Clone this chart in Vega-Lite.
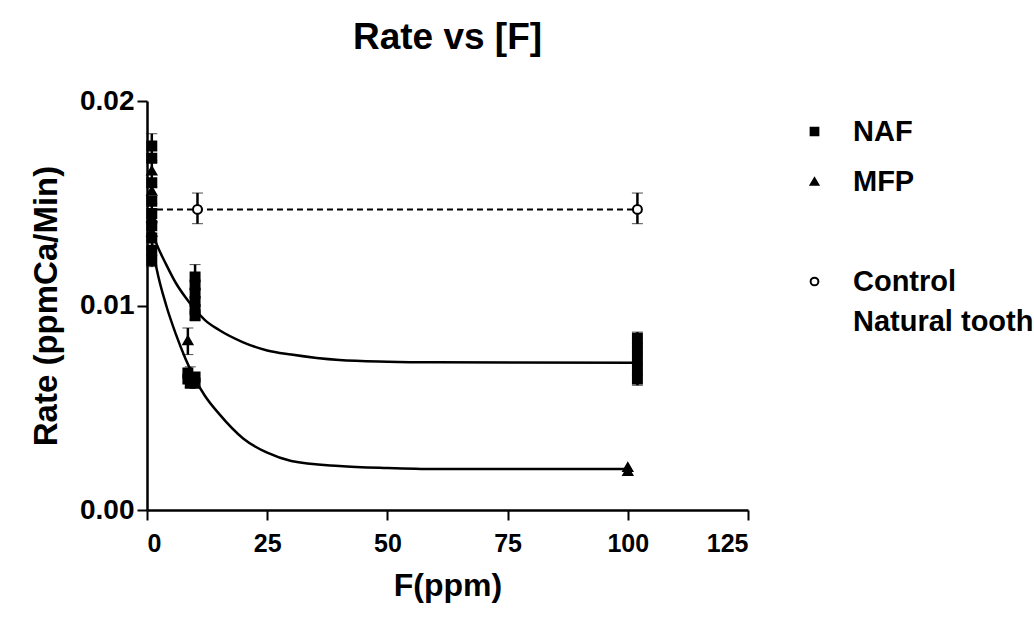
{
  "$schema": "https://vega.github.io/schema/vega-lite/v6.json",
  "width": 601,
  "height": 409,
  "autosize": "none",
  "padding": {"left": 147, "top": 101, "right": 286, "bottom": 120},
  "background": "white",
  "config": {
    "font": "Liberation Sans",
    "view": {"stroke": null},
    "style": {"guide-label": {"lineHeight": 40}},
    "axis": {"grid": false, "domainColor": "black", "domainWidth": 2.5, "tickColor": "black", "tickWidth": 2, "tickSize": 10, "labelColor": "black", "titleColor": "black", "labelFont": "Liberation Sans", "titleFont": "Liberation Sans", "labelFontWeight": "bold"}
  },
  "title": {"text": "Rate vs [F]", "fontSize": 37, "fontWeight": "bold", "font": "Liberation Sans", "color": "black", "offset": 30, "anchor": "middle"},
  "datasets": {
    "points": [
      {"series": "NAF", "x": 1, "y": 0.0178},
      {"series": "NAF", "x": 1, "y": 0.0172},
      {"series": "NAF", "x": 1, "y": 0.0160},
      {"series": "NAF", "x": 1, "y": 0.0151},
      {"series": "NAF", "x": 1, "y": 0.0145},
      {"series": "NAF", "x": 1, "y": 0.0139},
      {"series": "NAF", "x": 1, "y": 0.0133},
      {"series": "NAF", "x": 1, "y": 0.0127},
      {"series": "NAF", "x": 1, "y": 0.0122},
      {"series": "MFP", "x": 1, "y": 0.0166},
      {"series": "MFP", "x": 1, "y": 0.0156},
      {"series": "MFP", "x": 1, "y": 0.0143},
      {"series": "MFP", "x": 1, "y": 0.0136},
      {"series": "NAF", "x": 10, "y": 0.0114},
      {"series": "NAF", "x": 10, "y": 0.0110},
      {"series": "NAF", "x": 10, "y": 0.0106},
      {"series": "NAF", "x": 10, "y": 0.0102},
      {"series": "NAF", "x": 10, "y": 0.0098},
      {"series": "NAF", "x": 10, "y": 0.0095},
      {"series": "NAF", "x": 8.5, "y": 0.0067},
      {"series": "NAF", "x": 8.5, "y": 0.0064},
      {"series": "NAF", "x": 9, "y": 0.0062},
      {"series": "NAF", "x": 10, "y": 0.0065},
      {"series": "NAF", "x": 10, "y": 0.0062},
      {"series": "MFP", "x": 8.5, "y": 0.0083},
      {"series": "NAF", "x": 102, "y": 0.0084},
      {"series": "NAF", "x": 102, "y": 0.0079},
      {"series": "NAF", "x": 102, "y": 0.0074},
      {"series": "NAF", "x": 102, "y": 0.0069},
      {"series": "NAF", "x": 102, "y": 0.0064},
      {"series": "MFP", "x": 100, "y": 0.0021},
      {"series": "MFP", "x": 100, "y": 0.0019},
      {"series": "Control", "x": 10.5, "y": 0.0147},
      {"series": "Control", "x": 102, "y": 0.0147}
    ],
    "curves": [
      {"curve": "NAF fit", "x": 0.5, "y": 0.0140},
      {"curve": "NAF fit", "x": 2, "y": 0.0130},
      {"curve": "NAF fit", "x": 4, "y": 0.0120},
      {"curve": "NAF fit", "x": 6, "y": 0.0111},
      {"curve": "NAF fit", "x": 8, "y": 0.0104},
      {"curve": "NAF fit", "x": 10, "y": 0.0098},
      {"curve": "NAF fit", "x": 12, "y": 0.0093},
      {"curve": "NAF fit", "x": 15, "y": 0.0088},
      {"curve": "NAF fit", "x": 20, "y": 0.0082},
      {"curve": "NAF fit", "x": 25, "y": 0.0078},
      {"curve": "NAF fit", "x": 30, "y": 0.0076},
      {"curve": "NAF fit", "x": 40, "y": 0.00733},
      {"curve": "NAF fit", "x": 50, "y": 0.00725},
      {"curve": "NAF fit", "x": 60, "y": 0.00722},
      {"curve": "NAF fit", "x": 102, "y": 0.0072},
      {"curve": "MFP fit", "x": 0.5, "y": 0.0138},
      {"curve": "MFP fit", "x": 2, "y": 0.0118},
      {"curve": "MFP fit", "x": 4, "y": 0.0100},
      {"curve": "MFP fit", "x": 6, "y": 0.0086},
      {"curve": "MFP fit", "x": 8, "y": 0.0074},
      {"curve": "MFP fit", "x": 10, "y": 0.0064},
      {"curve": "MFP fit", "x": 12, "y": 0.0056},
      {"curve": "MFP fit", "x": 15, "y": 0.0047},
      {"curve": "MFP fit", "x": 20, "y": 0.0035},
      {"curve": "MFP fit", "x": 25, "y": 0.0028},
      {"curve": "MFP fit", "x": 30, "y": 0.0024},
      {"curve": "MFP fit", "x": 40, "y": 0.00215},
      {"curve": "MFP fit", "x": 50, "y": 0.00205},
      {"curve": "MFP fit", "x": 60, "y": 0.0020},
      {"curve": "MFP fit", "x": 100, "y": 0.0020}
    ],
    "control": [
      {"x": 0, "y": 0.0147},
      {"x": 102, "y": 0.0147}
    ],
    "errors": [
      {"x": 1, "lo": 0.0171, "hi": 0.0184},
      {"x": 1, "lo": 0.0158, "hi": 0.0170},
      {"x": 1, "lo": 0.0140, "hi": 0.0150},
      {"x": 1, "lo": 0.0119, "hi": 0.0128},
      {"x": 10, "lo": 0.0108, "hi": 0.0120},
      {"x": 10, "lo": 0.0093, "hi": 0.0098},
      {"x": 8.5, "lo": 0.0076, "hi": 0.0089},
      {"x": 9, "lo": 0.0060, "hi": 0.0070},
      {"x": 10.5, "lo": 0.0140, "hi": 0.0155},
      {"x": 102, "lo": 0.0140, "hi": 0.0155},
      {"x": 102, "lo": 0.0080, "hi": 0.0087},
      {"x": 102, "lo": 0.0061, "hi": 0.0066}
    ]
  },
  "layer": [
    {
      "data": {"name": "control"},
      "mark": {"type": "line", "color": "black", "strokeWidth": 2, "strokeDash": [6, 4]},
      "encoding": {
        "x": {"field": "x", "type": "quantitative", "title": "F(ppm)", "scale": {"domain": [0, 125], "nice": false}, "axis": {"values": [0, 25, 50, 75, 100, 125], "title": "F(ppm)", "labelFontSize": 25, "titleFontSize": 32, "titleFontWeight": "bold", "labelPadding": 11, "titlePadding": 14}},
        "y": {"field": "y", "type": "quantitative", "title": "Rate (ppmCa/Min)", "scale": {"domain": [0, 0.02], "nice": false}, "axis": {"values": [0, 0.01, 0.02], "format": ".2f", "title": "Rate (ppmCa/Min)", "labelFontSize": 28, "titleFontSize": 33, "titleFontWeight": "bold", "labelPadding": 3, "titlePadding": 16}}
      }
    },
    {
      "data": {"name": "curves"},
      "mark": {"type": "line", "color": "black", "strokeWidth": 2.5, "interpolate": "monotone"},
      "encoding": {
        "x": {"field": "x", "type": "quantitative", "title": "F(ppm)"},
        "y": {"field": "y", "type": "quantitative", "title": "Rate (ppmCa/Min)"},
        "detail": {"field": "curve"}
      }
    },
    {
      "data": {"name": "errors"},
      "mark": {"type": "errorbar", "ticks": {"size": 11, "color": "black", "strokeWidth": 2.5}, "rule": {"color": "black", "strokeWidth": 2.5}},
      "encoding": {
        "x": {"field": "x", "type": "quantitative", "title": "F(ppm)"},
        "y": {"field": "lo", "type": "quantitative", "title": "Rate (ppmCa/Min)"},
        "y2": {"field": "hi"}
      }
    },
    {
      "data": {"name": "points"},
      "mark": {"type": "point", "filled": false, "size": 80, "strokeWidth": 2, "opacity": 1},
      "encoding": {
        "x": {"field": "x", "type": "quantitative", "title": "F(ppm)"},
        "y": {"field": "y", "type": "quantitative", "title": "Rate (ppmCa/Min)"},
        "shape": {"field": "series", "type": "nominal", "scale": {"domain": ["NAF", "MFP", "gap", "Control"], "range": ["square", "triangle-up", "circle", "circle"]}, "legend": {"title": null, "orient": "none", "legendX": 653, "legendY": 16, "labelFontSize": 29, "labelFontWeight": "bold", "labelColor": "black", "labelFont": "Liberation Sans", "symbolSize": 60, "symbolStrokeWidth": 2, "rowPadding": 20, "labelOffset": 24, "labelExpr": "datum.label == 'gap' ? '' : datum.label == 'Control' ? ['Control', 'Natural tooth'] : datum.label", "labelBaseline": "middle", "labelLimit": 400}},
        "fill": {"field": "series", "type": "nominal", "scale": {"domain": ["NAF", "MFP", "gap", "Control"], "range": ["black", "black", "white", "white"]}},
        "stroke": {"field": "series", "type": "nominal", "scale": {"domain": ["NAF", "MFP", "gap", "Control"], "range": ["black", "black", "white", "black"]}}
      }
    }
  ]
}
